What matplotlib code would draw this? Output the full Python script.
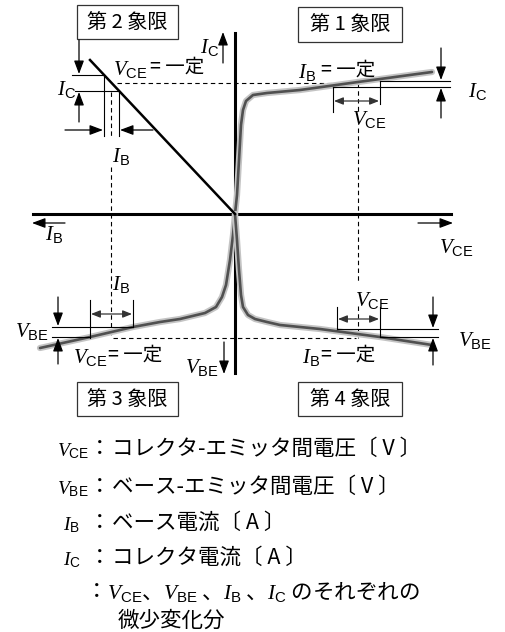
import matplotlib.pyplot as plt
from matplotlib.patches import Rectangle

plt.rcParams['font.family'] = ['Noto Sans CJK JP', 'DejaVu Sans']
plt.rcParams['mathtext.fontset'] = 'custom'
plt.rcParams['mathtext.it'] = 'Liberation Serif:italic'
plt.rcParams['mathtext.rm'] = 'Liberation Sans'

# characteristic curves (drawing coords, y down)
q1_vce = [235, 237, 239, 241, 243, 246, 253, 267, 300, 358, 432]
q1_ic = [214, 195, 160, 125, 110, 101, 95, 93, 90, 82, 72]

q2_ib = [90, 235]
q2_ic = [60, 214]

q3_ib = [235, 233, 230, 226, 222, 216, 205, 180, 160, 133, 90, 40]
q3_vbe = [214, 235, 260, 285, 297, 307, 313, 319, 322, 327, 337, 348]

q4_vce = [235, 237, 239, 241, 243, 248, 255, 267, 280, 320, 380, 432]
q4_vbe = [214, 240, 270, 295, 307, 315, 319, 322, 325, 329, 337, 345]

quadrants = ['第 1 象限', '第 2 象限', '第 3 象限', '第 4 象限']

legend_vars = [('V', 'CE'), ('V', 'BE'), ('I', 'B'), ('I', 'C')]
legend_text = ['コレクタ-エミッタ間電圧〔 V 〕', 'ベース-エミッタ間電圧〔 V 〕',
               'ベース電流〔 A 〕', 'コレクタ電流〔 A 〕']

fig = plt.figure(figsize=(5.05, 6.32), dpi=100)
ax = fig.add_axes([0, 0, 1, 1])
ax.set_xlim(0, 505)
ax.set_ylim(632, 0)
ax.axis('off')


def var(x, y, main, sub, size=15, ha='left'):
    ax.text(x, y, r'$\mathit{%s}_{\mathrm{%s}}$' % (main, sub),
            fontsize=size, ha=ha, va='baseline')


def arrow(x0, y0, x1, y1, double=False):
    if double:
        style = '<|-|>,head_length=0.55,head_width=0.22'
        col = '#333333'
    else:
        style = '-|>,head_length=0.8,head_width=0.3'
        col = 'k'
    ax.annotate('', xy=(x1, y1), xytext=(x0, y0),
                arrowprops=dict(arrowstyle=style, color=col, lw=0.9,
                                shrinkA=0, shrinkB=0))


def seg(xs, ys, **kw):
    kw.setdefault('color', 'k')
    kw.setdefault('lw', 0.8)
    ax.plot(xs, ys, **kw)


def dash(xs, ys):
    ax.plot(xs, ys, color='k', lw=0.8, dashes=(4, 3))


# axes
seg([33, 451], [214, 214], lw=2.2)
seg([235, 235], [33, 373], lw=2.2)

# dashed guides
dash([117, 360], [83, 83])
dash([111, 111], [92, 137])
dash([111, 111], [167, 337])
dash([358, 358], [83, 112])
dash([358, 358], [128, 282])
dash([358, 358], [306, 338])
dash([113, 356], [338, 338])

# curves
for xs, ys in [(q1_vce, q1_ic), (q3_ib, q3_vbe), (q4_vce, q4_vbe)]:
    ax.plot(xs, ys, color='#c4c4c4', lw=4.5, solid_capstyle='round')
    ax.plot(xs, ys, color='#505050', lw=1.9, solid_capstyle='round')
ax.plot(q2_ib, q2_ic, color='k', lw=1.8)

# quadrant boxes
box_pos = [(298, 7, 104, 35), (77, 5, 101, 34), (77, 382, 101, 34), (298, 382, 104, 34)]
for label, (bx, by, bw, bh) in zip(quadrants, box_pos):
    ax.add_patch(Rectangle((bx, by), bw, bh, fc='white', ec='#333333', lw=0.9))
    ax.text(bx + bw / 2, by + bh / 2 + 1, label, fontsize=14.5,
            ha='center', va='center')

# ---- quadrant 1
var(298, 78, 'I', 'B')
ax.text(321, 76, '= 一定', fontsize=14, va='baseline')
seg([380, 450], [81, 81])
seg([333, 450], [87, 87])
seg([333, 333], [87, 112])
seg([380, 380], [81, 104])
arrow(334, 101, 379, 101, double=True)
arrow(441, 48, 441, 80)
arrow(441, 118, 441, 88)
var(352, 125, 'V', 'CE')
var(468, 97, 'I', 'C')

# ---- quadrant 2
var(200, 53, 'I', 'C')
arrow(223, 63, 223, 32)
var(113, 75, 'V', 'CE')
ax.text(150, 73, '= 一定', fontsize=14, va='baseline')
seg([72, 104], [75, 75])
seg([75, 119], [91, 91])
seg([104, 104], [75, 136])
seg([119, 119], [91, 136])
arrow(79, 40, 79, 74)
arrow(79, 122, 79, 92)
arrow(65, 130, 103, 130)
arrow(153, 130, 120, 130)
var(57, 95, 'I', 'C')
var(112, 162, 'I', 'B')

# ---- quadrant 3
arrow(65, 223, 32, 223)
var(45, 240, 'I', 'B')
var(112, 290, 'I', 'B')
seg([90, 90], [300, 338])
seg([133, 133], [300, 327])
arrow(91, 314, 132, 314, double=True)
seg([52, 133], [327, 327])
seg([52, 90], [337, 337])
arrow(58, 297, 58, 326)
arrow(58, 364, 58, 338)
var(15, 337, 'V', 'BE')
var(73, 363, 'V', 'CE')
ax.text(108, 361, '= 一定', fontsize=14, va='baseline')
var(185, 373, 'V', 'BE')
arrow(224, 342, 224, 374)

# ---- quadrant 4
arrow(418, 223, 453, 223)
var(439, 253, 'V', 'CE')
var(355, 306, 'V', 'CE')
seg([337, 337], [307, 329])
seg([380, 380], [307, 337])
arrow(338, 319, 379, 319, double=True)
seg([337, 438], [329, 329])
seg([380, 438], [337, 337])
arrow(433, 297, 433, 328)
arrow(433, 365, 433, 338)
var(458, 346, 'V', 'BE')
var(302, 363, 'I', 'B')
ax.text(321, 361, '= 一定', fontsize=14, va='baseline')

# ---- legend text
base = [456, 494, 530, 565]
var_x = [57, 57, 63, 63]
for (m, s), txt, yb, vx in zip(legend_vars, legend_text, base, var_x):
    var(vx, yb, m, s, size=14)
    ax.text(100, yb - 1, '：', fontsize=15.5, ha='center', va='baseline')
    ax.text(112, yb - 1, txt, fontsize=15.5, va='baseline')

ax.text(97, 598, '：', fontsize=15.5, ha='center', va='baseline')
ax.text(107, 599,
        r'$\mathit{V}_{\mathrm{CE}}$、$\mathit{V}_{\mathrm{BE}}$ 、'
        r'$\mathit{I}_{\mathrm{B}}$ 、$\mathit{I}_{\mathrm{C}}$ のそれぞれの',
        fontsize=15.5, va='baseline')
ax.text(118, 627, '微少変化分', fontsize=15.5, va='baseline')

fig.savefig('out.png', dpi=100)
